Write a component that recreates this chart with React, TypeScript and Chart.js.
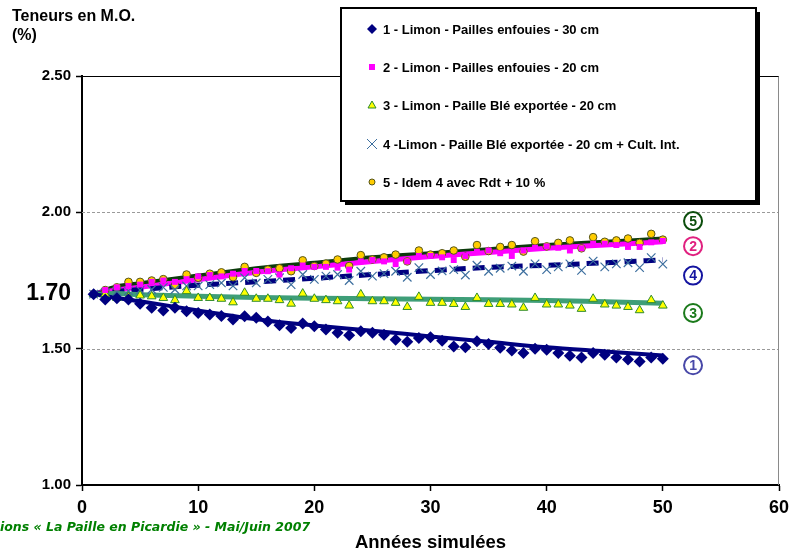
import { useEffect, useRef } from "react";
import { Chart, registerables } from "chart.js";

Chart.register(...registerables);

const FONT = "'Liberation Sans', Arial, sans-serif";

const years = [1, 2, 3, 4, 5, 6, 7, 8, 9, 10, 11, 12, 13, 14, 15, 16, 17, 18, 19, 20, 21, 22, 23, 24, 25, 26, 27, 28, 29, 30, 31, 32, 33, 34, 35, 36, 37, 38, 39, 40, 41, 42, 43, 44, 45, 46, 47, 48, 49, 50];

const s1 = [1.70, 1.68, 1.685, 1.68, 1.665, 1.65, 1.64, 1.65, 1.637, 1.631, 1.625, 1.62, 1.607, 1.619, 1.613, 1.60, 1.586, 1.576, 1.592, 1.582, 1.57, 1.558, 1.549, 1.564, 1.558, 1.551, 1.533, 1.525, 1.539, 1.542, 1.529, 1.508, 1.505, 1.527, 1.517, 1.503, 1.493, 1.484, 1.50, 1.496, 1.484, 1.474, 1.468, 1.484, 1.478, 1.468, 1.46, 1.453, 1.468, 1.463];
const s2 = [1.70, 1.715, 1.725, 1.73, 1.735, 1.745, 1.75, 1.745, 1.755, 1.765, 1.77, 1.765, 1.775, 1.785, 1.785, 1.784, 1.772, 1.795, 1.805, 1.80, 1.80, 1.797, 1.79, 1.82, 1.825, 1.82, 1.81, 1.82, 1.84, 1.84, 1.835, 1.825, 1.84, 1.855, 1.86, 1.85, 1.84, 1.86, 1.87, 1.875, 1.87, 1.86, 1.868, 1.885, 1.885, 1.88, 1.873, 1.873, 1.89, 1.895];
const s3 = [1.70, 1.70, 1.686, 1.69, 1.695, 1.692, 1.686, 1.678, 1.711, 1.686, 1.686, 1.683, 1.67, 1.705, 1.683, 1.683, 1.678, 1.665, 1.702, 1.683, 1.678, 1.674, 1.658, 1.699, 1.674, 1.674, 1.668, 1.653, 1.69, 1.668, 1.668, 1.664, 1.653, 1.686, 1.664, 1.664, 1.662, 1.65, 1.686, 1.662, 1.662, 1.658, 1.646, 1.683, 1.662, 1.658, 1.653, 1.641, 1.678, 1.658];
const s4 = [1.70, 1.705, 1.71, 1.712, 1.715, 1.717, 1.725, 1.717, 1.73, 1.73, 1.735, 1.741, 1.73, 1.76, 1.741, 1.754, 1.76, 1.735, 1.772, 1.754, 1.766, 1.772, 1.75, 1.784, 1.766, 1.775, 1.784, 1.762, 1.797, 1.772, 1.785, 1.79, 1.77, 1.806, 1.784, 1.795, 1.803, 1.784, 1.811, 1.79, 1.80, 1.811, 1.787, 1.821, 1.80, 1.811, 1.815, 1.797, 1.834, 1.81];
const s5 = [1.70, 1.715, 1.725, 1.745, 1.745, 1.75, 1.755, 1.732, 1.772, 1.76, 1.775, 1.78, 1.762, 1.80, 1.778, 1.79, 1.795, 1.784, 1.824, 1.803, 1.812, 1.827, 1.803, 1.843, 1.827, 1.835, 1.845, 1.82, 1.86, 1.845, 1.85, 1.86, 1.837, 1.88, 1.858, 1.873, 1.88, 1.856, 1.894, 1.875, 1.888, 1.897, 1.868, 1.909, 1.892, 1.897, 1.904, 1.888, 1.921, 1.90];

const trendYears = [1, 3, 5, 10, 15, 20, 25, 30, 35, 40, 45, 50];
const t1 = [1.70, 1.686, 1.674, 1.64, 1.608, 1.585, 1.566, 1.545, 1.525, 1.505, 1.49, 1.475];
const t2 = [1.70, 1.715, 1.725, 1.753, 1.78, 1.80, 1.82, 1.838, 1.853, 1.868, 1.88, 1.892];
const t3 = [1.70, 1.702, 1.698, 1.692, 1.688, 1.685, 1.683, 1.681, 1.679, 1.677, 1.672, 1.667];
const t4 = [1.70, 1.71, 1.717, 1.733, 1.745, 1.758, 1.772, 1.786, 1.798, 1.806, 1.815, 1.826];
const t5 = [1.70, 1.728, 1.74, 1.768, 1.795, 1.815, 1.835, 1.85, 1.865, 1.88, 1.892, 1.904];

const xTicks = [0, 10, 20, 30, 40, 50, 60];
const yTicks = [1.0, 1.5, 1.7, 2.0, 2.5];
const yGrid = [1.5, 2.0];

const legendLabels = [
  "1 - Limon - Pailles enfouies - 30 cm",
  "2 - Limon - Pailles enfouies - 20 cm",
  "3 - Limon - Paille Blé exportée - 20 cm",
  "4 -Limon - Paille Blé exportée - 20 cm + Cult. Int.",
  "5 - Idem 4 avec Rdt + 10 %",
];

const badgeLabels = ["5", "2", "4", "3", "1"];
const badgeValues = [1.968, 1.876, 1.768, 1.631, 1.439];
const badgeYear = 52.6;
const badgeColors = ["#0B4D0B", "#E0207F", "#1414A0", "#1B7A1B", "#4848A8"];

const yTitle = ["Teneurs en M.O.", "(%)"];
const xTitle = "Années simulées";
const footer = "ions « La Paille en Picardie » - Mai/Juin 2007";

const C1 = "#000080";
const C2 = "#FF00FF";
const C3_FILL = "#FFFF00";
const C3_EDGE = "#2E8B2E";
const C3_LINE = "#3E9E78";
const C4_MARK = "#3C6E9E";
const C4_LINE = "#000080";
const C5_FILL = "#FFCC00";
const C5_EDGE = "#55551A";
const C5_LINE = "#0B3B0B";

const pts = (xs: number[], ys: number[]) => xs.map((x, i) => ({ x, y: ys[i] }));

function drawMarker(ctx: CanvasRenderingContext2D, kind: number, x: number, y: number) {
  ctx.save();
  ctx.setLineDash([]);
  if (kind === 0) {
    ctx.fillStyle = C1;
    ctx.beginPath();
    ctx.moveTo(x, y - 5);
    ctx.lineTo(x + 5, y);
    ctx.lineTo(x, y + 5);
    ctx.lineTo(x - 5, y);
    ctx.closePath();
    ctx.fill();
  } else if (kind === 1) {
    ctx.fillStyle = C2;
    ctx.fillRect(x - 3, y - 3, 6, 6);
  } else if (kind === 2) {
    ctx.fillStyle = C3_FILL;
    ctx.strokeStyle = C3_EDGE;
    ctx.lineWidth = 1;
    ctx.beginPath();
    ctx.moveTo(x, y - 4);
    ctx.lineTo(x + 4, y + 3);
    ctx.lineTo(x - 4, y + 3);
    ctx.closePath();
    ctx.fill();
    ctx.stroke();
  } else if (kind === 3) {
    ctx.strokeStyle = C4_MARK;
    ctx.lineWidth = 1;
    ctx.beginPath();
    ctx.moveTo(x - 5, y - 5);
    ctx.lineTo(x + 5, y + 5);
    ctx.moveTo(x + 5, y - 5);
    ctx.lineTo(x - 5, y + 5);
    ctx.stroke();
  } else {
    ctx.fillStyle = C5_FILL;
    ctx.strokeStyle = C5_EDGE;
    ctx.lineWidth = 1;
    ctx.beginPath();
    ctx.arc(x, y, 3, 0, Math.PI * 2);
    ctx.fill();
    ctx.stroke();
  }
  ctx.restore();
}

const decor = {
  id: "decor",
  beforeDatasetsDraw(chart: any) {
    const { ctx, chartArea, scales } = chart;
    const y = scales.y;
    ctx.save();
    ctx.lineWidth = 1;
    ctx.strokeStyle = "#9a9a9a";
    ctx.setLineDash([3, 2]);
    yGrid.forEach((v) => {
      const py = Math.round(y.getPixelForValue(v)) + 0.5;
      ctx.beginPath();
      ctx.moveTo(chartArea.left, py);
      ctx.lineTo(chartArea.right, py);
      ctx.stroke();
    });
    ctx.setLineDash([]);
    const ty = Math.round(y.getPixelForValue(yTicks[yTicks.length - 1])) + 0.5;
    ctx.strokeStyle = "#000";
    ctx.beginPath();
    ctx.moveTo(chartArea.left, ty);
    ctx.lineTo(chartArea.right, ty);
    ctx.stroke();
    ctx.strokeStyle = "#8a8a8a";
    ctx.beginPath();
    ctx.moveTo(chartArea.right - 0.5, ty);
    ctx.lineTo(chartArea.right - 0.5, chartArea.bottom);
    ctx.stroke();
    ctx.restore();
  },
  afterDraw(chart: any) {
    const { ctx, scales } = chart;
    const x = scales.x;
    const y = scales.y;
    ctx.save();

    ctx.fillStyle = "#000";
    ctx.font = `bold 16px ${FONT}`;
    ctx.textAlign = "left";
    ctx.textBaseline = "middle";
    ctx.fillText(yTitle[0], 12, 17);
    ctx.fillText(yTitle[1], 12, 36);

    ctx.fillStyle = "#008000";
    ctx.font = `italic bold 12.5px 'DejaVu Sans', sans-serif`;
    ctx.fillText(footer, 0, 528);

    badgeLabels.forEach((lab, i) => {
      const px = x.getPixelForValue(badgeYear);
      const py = y.getPixelForValue(badgeValues[i]);
      ctx.strokeStyle = badgeColors[i];
      ctx.lineWidth = 2;
      ctx.beginPath();
      ctx.arc(px, py, 9, 0, Math.PI * 2);
      ctx.stroke();
      ctx.fillStyle = badgeColors[i];
      ctx.font = `bold 14px ${FONT}`;
      ctx.textAlign = "center";
      ctx.textBaseline = "middle";
      ctx.fillText(lab, px, py + 1);
    });

    const bx = 341, by = 8, bw = 415, bh = 193;
    ctx.fillStyle = "#000";
    ctx.fillRect(bx + 4, by + 4, bw, bh);
    ctx.fillStyle = "#fff";
    ctx.fillRect(bx, by, bw, bh);
    ctx.strokeStyle = "#000";
    ctx.lineWidth = 2;
    ctx.strokeRect(bx, by, bw, bh);
    const rows = [29, 67, 105, 144, 182];
    legendLabels.forEach((lab, i) => {
      drawMarker(ctx, i, 372, rows[i]);
      ctx.fillStyle = "#000";
      ctx.font = `bold 13px ${FONT}`;
      ctx.textAlign = "left";
      ctx.textBaseline = "middle";
      ctx.fillText(lab, 383, rows[i] + 1);
    });
    ctx.restore();
  },
};

export default function App() {
  const ref = useRef<HTMLCanvasElement | null>(null);

  useEffect(() => {
    if (!ref.current) return;
    const chart = new Chart(ref.current, {
      type: "scatter",
      data: {
        datasets: [
          { label: legendLabels[0], data: pts(years, s1), pointStyle: "rectRot", pointRadius: 6, backgroundColor: C1, borderColor: C1, borderWidth: 0, showLine: false, order: 0 },
          { label: legendLabels[1], data: pts(years, s2), pointStyle: "rect", pointRadius: 4.2, backgroundColor: C2, borderColor: C2, borderWidth: 0, showLine: false, order: 0 },
          { label: legendLabels[2], data: pts(years, s3), pointStyle: "triangle", pointRadius: 5, backgroundColor: C3_FILL, borderColor: C3_EDGE, borderWidth: 1, showLine: false, order: 0 },
          { label: legendLabels[3], data: pts(years, s4), pointStyle: "crossRot", pointRadius: 6, backgroundColor: C4_MARK, borderColor: C4_MARK, borderWidth: 1.2, showLine: false, order: 0 },
          { label: legendLabels[4], data: pts(years, s5), pointStyle: "circle", pointRadius: 3.8, backgroundColor: C5_FILL, borderColor: C5_EDGE, borderWidth: 1, showLine: false, order: 0 },
          { label: "t1", data: pts(trendYears, t1), showLine: true, pointRadius: 0, borderColor: C1, borderWidth: 4, cubicInterpolationMode: "monotone", order: 1 },
          { label: "t3", data: pts(trendYears, t3), showLine: true, pointRadius: 0, borderColor: C3_LINE, borderWidth: 5, cubicInterpolationMode: "monotone", order: 1 },
          { label: "t4", data: pts(trendYears, t4), showLine: true, pointRadius: 0, borderColor: C4_LINE, borderWidth: 5, borderDash: [12, 7], cubicInterpolationMode: "monotone", order: 1 },
          { label: "t5", data: pts(trendYears, t5), showLine: true, pointRadius: 0, borderColor: C5_LINE, borderWidth: 4, cubicInterpolationMode: "monotone", order: 2 },
          { label: "t2", data: pts(trendYears, t2), showLine: true, pointRadius: 0, borderColor: C2, borderWidth: 5, cubicInterpolationMode: "monotone", order: 1 },
        ] as any,
      },
      options: {
        animation: false,
        responsive: false,
        events: [],
        layout: { padding: { left: 0, right: 10, top: 76, bottom: 0 } },
        plugins: { legend: { display: false }, tooltip: { enabled: false } },
        scales: {
          x: {
            type: "linear",
            min: 0,
            max: 60,
            afterBuildTicks: (s: any) => {
              s.ticks = xTicks.map((v) => ({ value: v }));
            },
            afterFit: (s: any) => {
              s.height = 69;
              s.paddingLeft = 0;
              s.paddingRight = 0;
            },
            border: { display: true, color: "#000", width: 2 },
            grid: { drawOnChartArea: false, drawTicks: true, tickLength: 6, tickColor: "#000", tickWidth: 1.5 },
            ticks: { padding: 6, color: "#000", font: { family: FONT, weight: "bold", size: 18 }, maxRotation: 0, autoSkip: false },
            title: { display: true, text: xTitle, color: "#000", font: { family: FONT, weight: "bold", size: 18.5 }, padding: { top: 0, bottom: 0 } },
          },
          y: {
            type: "linear",
            min: 1,
            max: 2.5,
            afterBuildTicks: (s: any) => {
              s.ticks = yTicks.map((v) => ({ value: v }));
            },
            afterFit: (s: any) => {
              s.width = 82;
              s.paddingTop = 0;
              s.paddingBottom = 0;
            },
            border: { display: true, color: "#000", width: 2 },
            grid: {
              drawOnChartArea: false,
              drawTicks: true,
              tickLength: 6,
              tickWidth: 1.5,
              tickColor: (c: any) => (c.tick && c.tick.value === 1.7 ? "rgba(0,0,0,0)" : "#000"),
            },
            ticks: {
              padding: 5,
              color: "#000",
              autoSkip: false,
              font: (c: any) => ({ family: FONT, weight: "bold", size: c.tick && c.tick.value === 1.7 ? 23 : 15 }),
              callback: (v: any) => Number(v).toFixed(2),
            },
          },
        },
      } as any,
      plugins: [decor],
    });
    return () => chart.destroy();
  }, []);

  return (
    <div style={{ position: "absolute", left: 0, top: 0, width: 789, height: 554, background: "#fff" }}>
      <canvas ref={ref} width={789} height={554} style={{ display: "block" }} />
    </div>
  );
}
